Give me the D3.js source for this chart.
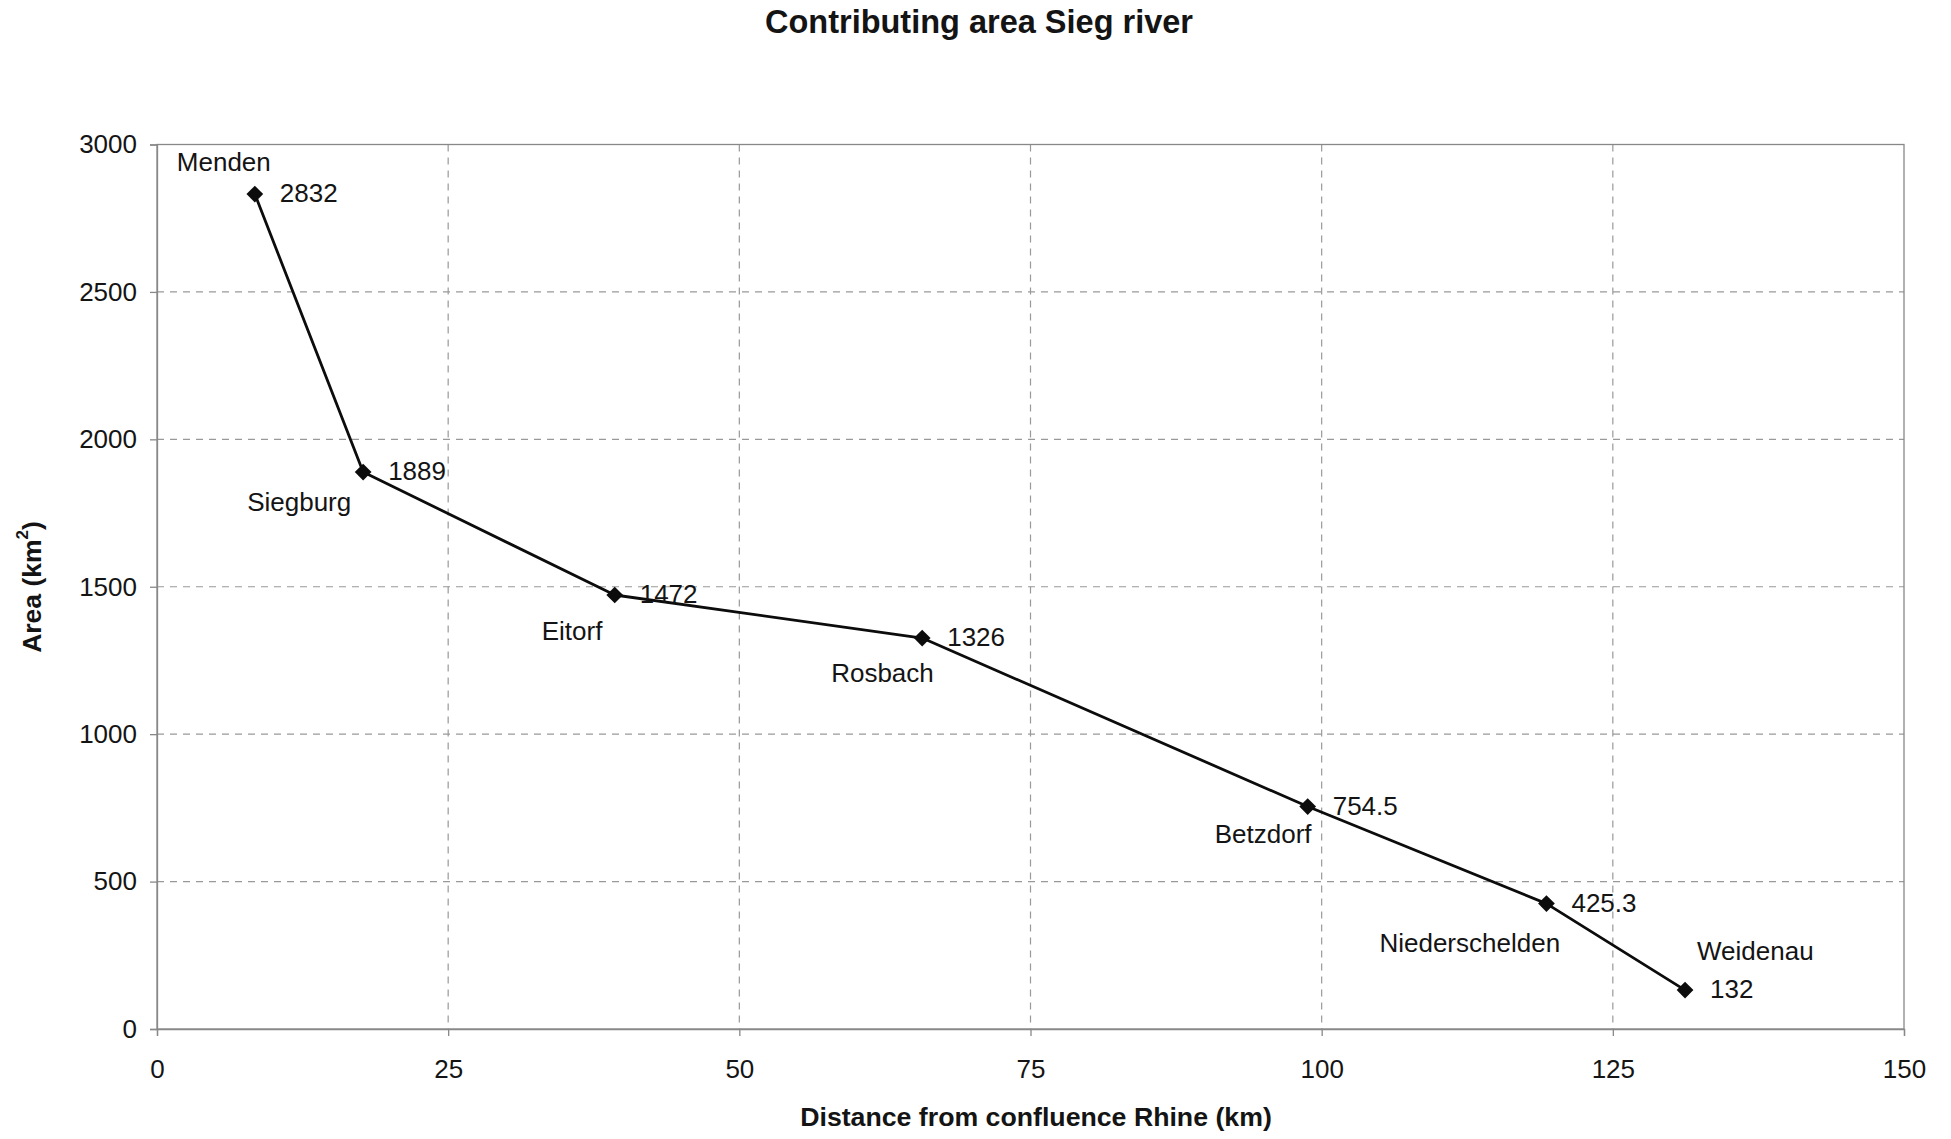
<!DOCTYPE html>
<html>
<head>
<meta charset="utf-8">
<title>Contributing area Sieg river</title>
<script src="https://cdn.jsdelivr.net/npm/d3@7"></script>
<style>
  html, body { margin: 0; padding: 0; background: #ffffff; }
  svg { display: block; }
  text { font-family: "Liberation Sans", Arial, sans-serif; fill: #141414; }
</style>
</head>
<body>
<svg id="chart" width="1951" height="1139"></svg>
<script>
// Gauging stations along the Sieg, ordered downstream to upstream
const stations = ["Menden", "Siegburg", "Eitorf", "Rosbach", "Betzdorf", "Niederschelden", "Weidenau"];
// Distance from the confluence with the Rhine (km)
const distanceKm = [8.4, 17.7, 39.3, 65.7, 98.8, 119.3, 131.2];
// Contributing catchment area (km²)
const areaKm2 = [2832, 1889, 1472, 1326, 754.5, 425.3, 132];

const xTicks = [0, 25, 50, 75, 100, 125, 150];
const yTicks = [0, 500, 1000, 1500, 2000, 2500, 3000];

// Placement of each station name relative to its marker (px)
const nameOffsets = [
  [-78, -23], [-116, 39], [-73, 45], [-91, 44], [-93, 36], [-167, 48], [12, -30]
];

const W = 1951, H = 1139;
const margin = { top: 144.5, right: 47, bottom: 110, left: 157 };
const iw = W - margin.left - margin.right;
const ih = H - margin.top - margin.bottom;

const svg = d3.select("#chart");
const g = svg.append("g").attr("transform", `translate(${margin.left},${margin.top})`);

const x = d3.scaleLinear().domain([0, 150]).range([0, iw]);
const y = d3.scaleLinear().domain([0, 3000]).range([ih, 0]);

const gridColor = "#999999";
const frameColor = "#888888";

// Dashed grid
g.append("g").selectAll("line.vgrid")
  .data(xTicks.filter(t => t > 0 && t < 150))
  .join("line")
  .attr("x1", d => x(d)).attr("x2", d => x(d))
  .attr("y1", 0).attr("y2", ih)
  .attr("stroke", gridColor).attr("stroke-width", 1.2)
  .attr("stroke-dasharray", "7,6");

g.append("g").selectAll("line.hgrid")
  .data(yTicks.filter(t => t > 0 && t < 3000))
  .join("line")
  .attr("x1", 0).attr("x2", iw)
  .attr("y1", d => y(d)).attr("y2", d => y(d))
  .attr("stroke", gridColor).attr("stroke-width", 1.2)
  .attr("stroke-dasharray", "7,6");

// Plot frame
g.append("rect")
  .attr("x", 0).attr("y", 0).attr("width", iw).attr("height", ih)
  .attr("fill", "none").attr("stroke", frameColor).attr("stroke-width", 1.3);

// Axes
const xAxis = g.append("g")
  .attr("transform", `translate(0,${ih})`)
  .call(d3.axisBottom(x).tickValues(xTicks).tickSize(7).tickPadding(24).tickFormat(d3.format("d")));
const yAxis = g.append("g")
  .call(d3.axisLeft(y).tickValues(yTicks).tickSize(7).tickPadding(13).tickFormat(d3.format("d")));

[xAxis, yAxis].forEach(a => {
  a.select(".domain").attr("stroke", frameColor).attr("stroke-width", 1.3);
  a.selectAll(".tick line").attr("stroke", frameColor).attr("stroke-width", 1.3);
  a.selectAll(".tick text")
    .attr("font-family", "'Liberation Sans', Arial, sans-serif")
    .attr("font-size", 26).attr("fill", "#141414");
});

// Series line
const pts = stations.map((s, i) => ({ name: s, d: distanceKm[i], a: areaKm2[i], off: nameOffsets[i] }));

g.append("path")
  .datum(pts)
  .attr("fill", "none")
  .attr("stroke", "#0c0c0c")
  .attr("stroke-width", 2.8)
  .attr("stroke-linejoin", "round")
  .attr("d", d3.line().x(p => x(p.d)).y(p => y(p.a)));

// Diamond markers
g.append("g").selectAll("path")
  .data(pts)
  .join("path")
  .attr("d", d3.symbol(d3.symbolSquare, 140)())
  .attr("transform", p => `translate(${x(p.d)},${y(p.a)}) rotate(45)`)
  .attr("fill", "#0c0c0c");

// Value labels
g.append("g").selectAll("text")
  .data(pts)
  .join("text")
  .attr("x", p => x(p.d) + 25)
  .attr("y", p => y(p.a) + 8)
  .attr("font-size", 26)
  .text(p => String(p.a));

// Station names
g.append("g").selectAll("text")
  .data(pts)
  .join("text")
  .attr("x", p => x(p.d) + p.off[0])
  .attr("y", p => y(p.a) + p.off[1])
  .attr("font-size", 26)
  .text(p => p.name);

// Title
svg.append("text")
  .attr("x", 979).attr("y", 33)
  .attr("text-anchor", "middle")
  .attr("font-size", 32.5).attr("font-weight", "bold")
  .text("Contributing area Sieg river");

// X axis title
svg.append("text")
  .attr("x", 1036).attr("y", 1126)
  .attr("text-anchor", "middle")
  .attr("font-size", 26.7).attr("font-weight", "bold")
  .text("Distance from confluence Rhine (km)");

// Y axis title
const yt = svg.append("text")
  .attr("transform", "translate(41,587) rotate(-90)")
  .attr("text-anchor", "middle")
  .attr("font-size", 26.5).attr("font-weight", "bold");
yt.append("tspan").text("Area (km");
yt.append("tspan").attr("font-size", 17).attr("dy", -13).text("2");
yt.append("tspan").attr("dy", 13).text(")");
</script>
</body>
</html>
